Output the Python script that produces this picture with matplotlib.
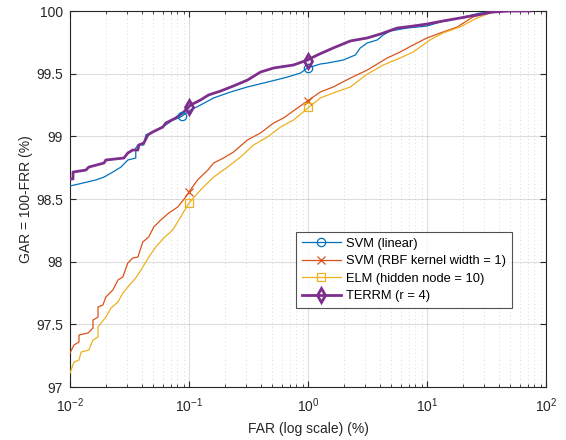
import matplotlib
matplotlib.use("Agg")
import matplotlib.pyplot as plt
from matplotlib.lines import Line2D
from matplotlib.ticker import LogLocator, FixedLocator, NullFormatter

plt.rcParams['font.family'] = ['Liberation Sans', 'DejaVu Sans']
plt.rcParams['mathtext.fontset'] = 'custom'
plt.rcParams['mathtext.rm'] = 'Liberation Sans'
plt.rcParams['mathtext.it'] = 'Liberation Sans'

# ---------------- data (FAR %, GAR %) ----------------
svm_lin_far = [0.01, 0.0119, 0.0165, 0.0193, 0.0229, 0.0268, 0.0306, 0.0357, 0.0357, 0.0372,
               0.0417, 0.0434, 0.0496, 0.0602, 0.0730, 0.0851, 0.103, 0.125, 0.161, 0.224,
               0.310, 0.457, 0.672, 0.864, 0.989, 1.05, 1.27, 1.46, 1.98, 2.50,
               2.75, 3.15, 3.82, 4.29, 4.91, 6.81, 10.0, 12.9, 18.9, 27.9,
               41.0, 60.3, 73.1]
svm_lin_gar = [98.604, 98.620, 98.652, 98.675, 98.715, 98.755, 98.811, 98.827, 98.907, 98.931,
               98.931, 99.011, 99.035, 99.074, 99.130, 99.154, 99.210, 99.250, 99.306, 99.354,
               99.394, 99.433, 99.473, 99.505, 99.545, 99.553, 99.577, 99.585, 99.609, 99.649,
               99.705, 99.745, 99.769, 99.809, 99.840, 99.864, 99.880, 99.912, 99.944, 99.984,
               100.0, 100.0, 100.0]
svm_lin_mk_far = [0.087, 1.0]
svm_lin_mk_gar = [99.165, 99.545]

svm_rbf_far = [0.01, 0.0108, 0.0119, 0.0119, 0.0142, 0.0156, 0.0156, 0.0172, 0.0172, 0.0189,
               0.0200, 0.0229, 0.0253, 0.0278, 0.0306, 0.0337, 0.0372, 0.0409, 0.0459, 0.0506,
               0.0579, 0.0676, 0.0804, 0.0938, 0.1, 0.118, 0.144, 0.161, 0.195, 0.237,
               0.310, 0.399, 0.513, 0.622, 0.815, 1.0, 1.27, 1.63, 2.27, 3.15,
               4.63, 5.95, 7.65, 10.0, 12.9, 17.9, 24.3, 31.9, 41.0, 73.1]
svm_rbf_gar = [97.271, 97.335, 97.359, 97.415, 97.431, 97.471, 97.534, 97.558, 97.638, 97.654,
               97.718, 97.774, 97.854, 97.878, 97.989, 98.029, 98.037, 98.157, 98.197, 98.277,
               98.332, 98.388, 98.436, 98.516, 98.556, 98.652, 98.731, 98.787, 98.827, 98.875,
               98.971, 99.027, 99.106, 99.146, 99.226, 99.285, 99.354, 99.394, 99.465, 99.529,
               99.625, 99.673, 99.729, 99.785, 99.824, 99.872, 99.952, 99.984, 100.0, 100.0]
svm_rbf_mk_far = [0.1, 1.0]
svm_rbf_mk_gar = [98.556, 99.285]

elm_far = [0.01, 0.0108, 0.0119, 0.0124, 0.0144, 0.0156, 0.0172, 0.0172, 0.0200, 0.0221,
           0.0253, 0.0278, 0.0306, 0.0357, 0.0409, 0.0459, 0.0526, 0.0614, 0.0730, 0.0851,
           0.0975, 0.1, 0.125, 0.161, 0.211, 0.271, 0.349, 0.457, 0.587, 0.755,
           1.0, 1.27, 1.63, 2.27, 3.15, 4.29, 5.95, 7.65, 10.6, 13.6,
           18.9, 26.3, 33.8, 46.9, 73.1]
elm_gar = [97.112, 97.199, 97.215, 97.279, 97.295, 97.375, 97.399, 97.479, 97.558, 97.630,
           97.678, 97.750, 97.798, 97.870, 97.957, 98.037, 98.117, 98.189, 98.253, 98.356,
           98.452, 98.468, 98.572, 98.675, 98.755, 98.835, 98.931, 98.995, 99.074, 99.130,
           99.226, 99.306, 99.346, 99.394, 99.497, 99.569, 99.625, 99.673, 99.769, 99.824,
           99.872, 99.944, 99.984, 100.0, 100.0]
elm_mk_far = [0.1, 1.0]
elm_mk_gar = [98.468, 99.238]

terrm_far = [0.01, 0.0106, 0.0106, 0.0136, 0.0144, 0.0193, 0.0200, 0.0284, 0.0306, 0.0337,
             0.0372, 0.0379, 0.0417, 0.0451, 0.0496, 0.0602, 0.0638, 0.0774, 0.0903, 0.103,
             0.125, 0.146, 0.185, 0.237, 0.310, 0.399, 0.513, 0.755, 0.989, 1.20,
             1.63, 2.27, 3.15, 4.05, 5.61, 7.65, 10.0, 13.6, 18.9, 26.3,
             35.8, 49.7, 73.1]
terrm_gar = [98.660, 98.660, 98.715, 98.731, 98.755, 98.787, 98.811, 98.827, 98.867, 98.891,
             98.891, 98.931, 98.947, 99.011, 99.035, 99.074, 99.106, 99.146, 99.194, 99.250,
             99.290, 99.330, 99.362, 99.402, 99.449, 99.513, 99.545, 99.569, 99.609, 99.649,
             99.705, 99.761, 99.785, 99.816, 99.864, 99.880, 99.896, 99.920, 99.944, 99.968,
             99.992, 100.0, 100.0]
terrm_mk_far = [0.1, 1.0]
terrm_mk_gar = [99.234, 99.605]

labels = ['SVM (linear)', 'SVM (RBF kernel width = 1)', 'ELM (hidden node = 10)', 'TERRM (r = 4)']
colors = ['#0072BD', '#D95319', '#EDB120', '#7E2F8E']

y_ticks = [97, 97.5, 98, 98.5, 99, 99.5, 100]
y_tick_labels = ['97', '97.5', '98', '98.5', '99', '99.5', '100']
x_ticks = [0.01, 0.1, 1, 10, 100]
x_tick_labels = [r'$10^{-2}$', r'$10^{-1}$', r'$10^{0}$', r'$10^{1}$', r'$10^{2}$']

# ---------------- figure ----------------
fig = plt.figure(figsize=(5.66, 4.40), dpi=100)
ax = fig.add_axes([70 / 566, 1 - 387 / 440, 476 / 566, 376 / 440])

series = [
    (svm_lin_far, svm_lin_gar, svm_lin_mk_far, svm_lin_mk_gar, 'o', 0.9, 6),
    (svm_rbf_far, svm_rbf_gar, svm_rbf_mk_far, svm_rbf_mk_gar, 'x', 0.9, 6),
    (elm_far, elm_gar, elm_mk_far, elm_mk_gar, 's', 0.9, 6),
    (terrm_far, terrm_gar, terrm_mk_far, terrm_mk_gar, 'd', 2.0, 7),
]
handles = []
for (fx, gy, mx, my, mk, lw, ms), c, lab in zip(series, colors, labels):
    ax.plot(fx, gy, color=c, lw=lw, zorder=3)
    ax.plot(mx, my, linestyle='none', marker=mk, markersize=ms, markerfacecolor='none',
            markeredgecolor=c, markeredgewidth=lw if lw > 1 else 0.9, zorder=4)
    handles.append(Line2D([0], [0], color=c, lw=lw, marker=mk, markersize=ms,
                          markerfacecolor='none', markeredgecolor=c,
                          markeredgewidth=lw if lw > 1 else 0.9))

ax.set_xscale('log')
ax.set_xlim(0.01, 100)
ax.set_ylim(97, 100)
ax.xaxis.set_major_locator(FixedLocator(x_ticks))
ax.set_xticklabels(x_tick_labels)
ax.xaxis.set_minor_locator(LogLocator(base=10, subs=range(2, 10), numticks=20))
ax.xaxis.set_minor_formatter(NullFormatter())
ax.set_yticks(y_ticks)
ax.set_yticklabels(y_tick_labels)

ax.grid(True, which='major', color='#262626', alpha=0.15, lw=0.8, linestyle='-')
ax.grid(True, which='minor', axis='x', color='#262626', alpha=0.22, lw=0.6, linestyle=(0, (1, 3.5)))
ax.set_axisbelow(True)

for s in ax.spines.values():
    s.set_color('#262626')
    s.set_linewidth(0.8)
ax.tick_params(which='both', direction='in', top=True, right=True, colors='#262626',
               labelsize=10, labelcolor='#262626')
ax.tick_params(which='major', length=4)
ax.tick_params(which='minor', length=2)
ax.tick_params(axis='x', which='major', pad=7)
ax.tick_params(axis='y', which='major', pad=5)

ax.set_xlabel('FAR (log scale) (%)', fontsize=10, color='#262626', labelpad=5)
ax.set_ylabel('GAR = 100-FRR (%)', fontsize=10, color='#262626', labelpad=2)

leg = ax.legend(handles, labels, loc='upper left', bbox_to_anchor=((296 - 70) / 476, (387 - 232) / 376),
                fontsize=9.3, frameon=True, fancybox=False, edgecolor='#262626',
                borderpad=0.45, labelspacing=0.42, handlelength=3.0, handletextpad=0.4,
                borderaxespad=0)
leg.get_frame().set_linewidth(0.8)

fig.savefig('out.png', dpi=100)
